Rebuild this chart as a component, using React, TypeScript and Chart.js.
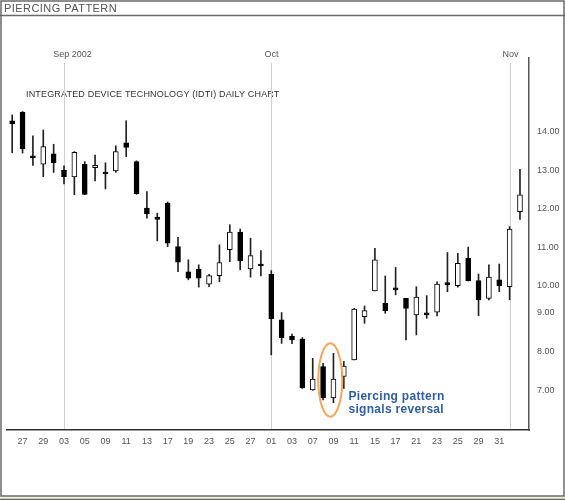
import React, { useEffect, useRef } from 'react';
import { Chart, registerables } from 'chart.js';

Chart.register(...registerables);

// ---- data ----
const dates = ['26','27','28','29','30','03','04','05','06','09','10','11','12','13','16','17','18','19','20','23','24','25','26','27','30','01','02','03','04','07','08','09','10','11','14','15','16','17','18','21','22','23','24','25','28','29','30','31','01','04'];
const opens = [14.28,14.50,13.37,13.15,13.42,13.00,12.82,13.15,13.06,12.95,12.98,13.71,13.22,12.01,11.78,12.14,11.01,10.36,10.43,10.04,10.26,10.93,11.39,10.43,10.56,10.30,9.11,8.68,8.61,7.29,7.90,7.08,7.64,8.07,9.19,9.86,9.54,9.94,9.67,9.24,9.29,9.31,10.08,10.00,10.71,10.13,9.67,10.15,9.97,11.92];
const highs = [14.43,14.52,13.89,14.04,13.67,13.11,13.48,13.22,13.39,13.19,13.63,14.28,13.24,12.44,11.88,12.17,11.25,10.67,10.54,10.29,11.06,11.58,11.47,11.23,10.91,10.39,9.30,8.74,8.65,8.11,7.98,8.24,8.03,9.41,9.47,10.97,10.25,10.47,9.67,9.97,9.74,10.10,10.86,10.84,11.00,10.30,10.54,10.56,11.53,13.02];
const lows = [13.45,13.44,13.12,12.83,12.94,12.64,12.36,12.36,12.72,12.51,12.94,13.35,12.37,11.75,11.16,11.01,10.36,10.15,9.96,9.97,10.10,10.62,10.41,10.22,10.25,8.20,8.50,8.49,7.33,7.28,7.03,6.96,7.33,8.07,9.02,9.86,9.28,9.76,8.59,8.72,9.15,9.21,9.84,9.96,10.12,9.22,9.63,9.84,9.63,11.72];
const closes = [14.20,13.55,13.32,13.61,13.19,12.83,13.46,12.37,13.12,12.90,13.48,13.59,12.39,11.87,11.72,11.10,10.61,10.19,10.19,10.26,10.60,11.39,10.64,10.78,10.51,9.14,8.65,8.59,7.34,7.57,7.09,7.57,7.91,9.39,9.35,10.67,9.35,9.89,9.41,9.70,9.24,10.04,10.02,10.58,10.12,9.63,10.22,9.99,11.47,12.36];

// every other trading day is labelled, Aug 27 .. Oct 31
const xTickIdx = [1,3,5,7,9,11,13,15,17,19,21,23,25,27,29,31,33,35,37,39,41,43,45,47];

const yTickValues = [7.27, 8.28, 9.29, 10, 11, 12, 13, 14];
const yTickLabels = ['7.00', '8.00', '9.00', '10.00', '11.00', '12.00', '13.00', '14.00'];

const monthIdx = [5, 25, 48];
const monthText = ['Sep 2002', 'Oct', 'Nov'];

const patternIdx = [30, 31];

const titleText = 'PIERCING PATTERN';
const subtitleText = 'INTEGRATED DEVICE TECHNOLOGY (IDTI) DAILY CHART';
const noteLines = ['Piercing pattern', 'signals reversal'];

const FONT = '"Liberation Sans", Arial, Helvetica, sans-serif';

const decor = {
  id: 'decor',
  beforeDraw(chart: any) {
    const { ctx, chartArea } = chart;
    const W = chart.width, H = chart.height;
    ctx.save();
    ctx.fillStyle = '#ffffff';
    ctx.fillRect(0, 0, W, H);
    ctx.fillStyle = '#f3efd8';
    ctx.fillRect(0, 496, W, 3);
    ctx.strokeStyle = '#6a6a6a';
    ctx.lineWidth = 1.5;
    ctx.strokeRect(1, 1, W - 2, 495);
    ctx.beginPath();
    ctx.moveTo(0, 499.5); ctx.lineTo(W, 499.5);
    ctx.moveTo(0, 15.5); ctx.lineTo(W, 15.5);
    ctx.stroke();
    ctx.fillStyle = '#555555';
    ctx.font = `11px ${FONT}`;
    ctx.textAlign = 'left';
    ctx.textBaseline = 'alphabetic';
    (ctx as any).letterSpacing = '0.45px';
    ctx.fillText(titleText, 4, 12);
    ctx.fillStyle = '#333333';
    ctx.font = `9px ${FONT}`;
    ctx.textBaseline = 'middle';
    (ctx as any).letterSpacing = '0.17px';
    ctx.fillText(subtitleText, 26, 94.5);
    (ctx as any).letterSpacing = '0px';
    const xs = chart.scales.x;
    ctx.strokeStyle = '#d0d0d0';
    ctx.lineWidth = 1;
    ctx.fillStyle = '#555555';
    ctx.font = `9px ${FONT}`;
    ctx.textAlign = 'center';
    monthIdx.forEach((m, i) => {
      const x = Math.round(xs.getPixelForValue(m)) + 0.5;
      ctx.beginPath();
      ctx.moveTo(x, 63);
      ctx.lineTo(x, chartArea.bottom);
      ctx.stroke();
      const off = i === 0 ? 8 : 0;
      ctx.fillText(monthText[i], x + off, 55);
    });
    ctx.restore();
  },
  afterDatasetsDraw(chart: any) {
    const { ctx } = chart;
    const xs = chart.scales.x, ys = chart.scales.y;
    const a = patternIdx[0], b = patternIdx[1];
    const cx = (xs.getPixelForValue(a) + xs.getPixelForValue(b)) / 2 + 2;
    const hi = Math.max(highs[a], highs[b]);
    const lo = Math.min(lows[a], lows[b]);
    const yTop = ys.getPixelForValue(hi);
    const yBot = ys.getPixelForValue(lo);
    const cy = (yTop + yBot) / 2 + 2;
    const ry = (yBot - yTop) / 2 + 12;
    ctx.save();
    ctx.strokeStyle = '#f2a65e';
    ctx.lineWidth = 2;
    ctx.beginPath();
    ctx.ellipse(cx, cy, 12, ry, 0, 0, Math.PI * 2);
    ctx.stroke();
    ctx.fillStyle = '#2f5f9e';
    ctx.font = `bold 12px ${FONT}`;
    ctx.textAlign = 'left';
    ctx.textBaseline = 'middle';
    (ctx as any).letterSpacing = '0.3px';
    const tx = xs.getPixelForValue(b) + 15;
    ctx.fillText(noteLines[0], tx, cy + 16.5);
    ctx.fillText(noteLines[1], tx, cy + 29.5);
    (ctx as any).letterSpacing = '0px';
    ctx.restore();
  },
};

export default function App() {
  const ref = useRef<HTMLCanvasElement>(null);
  useEffect(() => {
    if (!ref.current) return;
    const wickData = dates.map((_, i) => ({ x: i, y: [lows[i], highs[i]] }));
    const bodyData = dates.map((_, i) => ({ x: i, y: [opens[i], closes[i]] }));
    const bodyFill = dates.map((_, i) => (closes[i] >= opens[i] ? '#ffffff' : '#000000'));
    const chart = new Chart(ref.current, {
      type: 'bar',
      data: {
        datasets: [
          {
            label: 'body',
            data: bodyData as any,
            backgroundColor: bodyFill,
            borderColor: '#000000',
            borderWidth: 1,
            borderSkipped: false,
            barThickness: 5,
            grouped: false,
            order: 1,
          } as any,
          {
            label: 'wick',
            data: wickData as any,
            backgroundColor: '#222222',
            borderWidth: 0,
            barThickness: 1,
            grouped: false,
            order: 2,
          } as any,
        ],
      },
      options: {
        responsive: false,
        animation: false,
        events: [],
        layout: { padding: { left: 7, top: 58, right: 0, bottom: 0 } },
        plugins: { legend: { display: false }, tooltip: { enabled: false }, title: { display: false } },
        scales: {
          x: {
            type: 'linear',
            offset: false,
            min: -0.5,
            max: 49.87,
            grid: { display: false, drawTicks: false, offset: false },
            border: { display: true, color: '#333333', width: 1.5 },
            afterBuildTicks: (scale: any) => {
              scale.ticks = xTickIdx.map((v) => ({ value: v }));
            },
            afterFit: (scale: any) => { scale.height = 70; },
            ticks: {
              autoSkip: false,
              maxRotation: 0,
              padding: 6,
              color: '#555555',
              font: { family: FONT, size: 9 },
              callback: (v: any) => dates[v as number],
            },
          },
          y: {
            type: 'linear',
            position: 'right',
            min: 6.25,
            max: 15.91,
            grid: { display: false, drawTicks: false },
            border: { display: true, color: '#555555', width: 1.5 },
            afterBuildTicks: (scale: any) => {
              scale.ticks = yTickValues.map((v) => ({ value: v }));
            },
            afterFit: (scale: any) => { scale.width = 36; },
            ticks: {
              padding: 8,
              color: '#555555',
              font: { family: FONT, size: 9 },
              callback: (_v: any, idx: number) => yTickLabels[idx],
            },
          },
        },
      } as any,
      plugins: [decor],
    });
    return () => chart.destroy();
  }, []);
  return (
    <div style={{ position: 'absolute', left: 0, top: 0, width: 565, height: 500 }}>
      <canvas ref={ref} width={565} height={500} style={{ display: 'block' }} />
    </div>
  );
}
